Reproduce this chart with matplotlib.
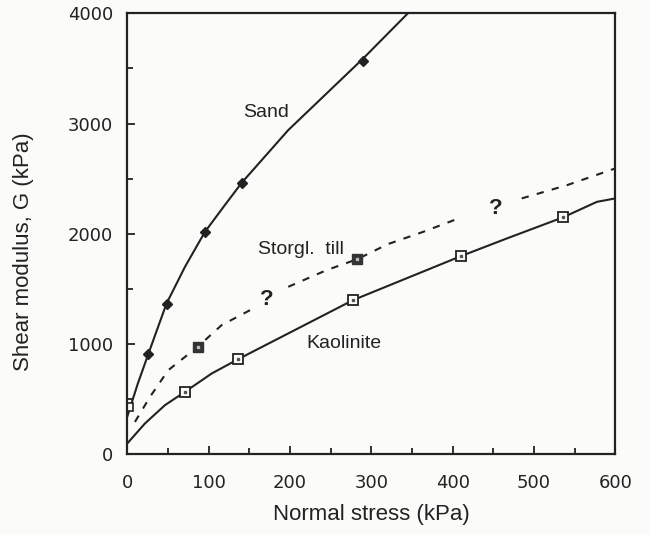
import numpy as np
import matplotlib
matplotlib.use("Agg")
import matplotlib.pyplot as plt
from matplotlib.ticker import MultipleLocator

# curves (normal stress kPa, shear modulus kPa)
sand_curve_x = [0, 13, 26, 38, 48.4, 71, 95.6, 120, 141, 198, 290, 345]
sand_curve_y = [340, 640, 910, 1156, 1368, 1700, 2018, 2260, 2465, 2941, 3590, 4000]
sand_pts_x = [26, 49, 96, 141, 290]
sand_pts_y = [910, 1365, 2020, 2465, 3570]

kaol_curve_x = [0, 21.8, 46.4, 71, 103.8, 135.8, 277.6, 410.2, 466.8, 535.7, 577.5, 600]
kaol_curve_y = [97, 279, 445, 566, 732, 860, 1398, 1797, 1958, 2149, 2290, 2321]
kaol_pts_x = [71, 135.8, 277.6, 410.2, 535.7]
kaol_pts_y = [566, 860, 1398, 1797, 2149]

# dashed till curve, broken where the question marks sit
till_seg1_x = [9.5, 28, 50.4, 86.6, 116, 151]
till_seg1_y = [293, 520, 762, 974, 1171, 1307]
till_seg2_x = [198, 245, 283, 320, 364, 411]
till_seg2_y = [1519, 1670, 1770, 1905, 2018, 2150]
till_seg3_x = [485, 541, 600]
till_seg3_y = [2321, 2442, 2593]
till_pts_x = [86.6, 283]
till_pts_y = [974, 1770]

odd_pt_x = [2]
odd_pt_y = [425]

bg = '#fbfbf9'
ink = '#222222'

fig = plt.figure(figsize=(6.49, 5.35), dpi=100, facecolor=bg)
ax = fig.add_axes([0.196, 0.151, 0.752, 0.824], facecolor=bg)

ax.plot(sand_curve_x, sand_curve_y, color=ink, lw=1.5, solid_capstyle='round')
ax.plot(sand_pts_x, sand_pts_y, 'D', color=ink, ms=5, ls='none')

ax.plot(kaol_curve_x, kaol_curve_y, color=ink, lw=1.5, solid_capstyle='round')
ax.plot(kaol_pts_x, kaol_pts_y, 's', mfc=bg, mec=ink, mew=1.3, ms=7, ls='none')
ax.plot(kaol_pts_x, kaol_pts_y, 's', color='#555555', ms=1.8, ls='none')

for sx, sy in [(till_seg1_x, till_seg1_y), (till_seg2_x, till_seg2_y), (till_seg3_x, till_seg3_y)]:
    ax.plot(sx, sy, color=ink, lw=1.5, dashes=(3.5, 4))
ax.plot(till_pts_x, till_pts_y, 's', color='#333333', ms=6.5, ls='none')
ax.plot(till_pts_x, till_pts_y, 's', color='#bbbbbb', ms=1.6, ls='none')

# small open marker against the left axis
ax.plot(odd_pt_x, odd_pt_y, 's', mfc=bg, mec=ink, mew=1.2, ms=6, ls='none')

lab = dict(family='Liberation Sans', color=ink)
ax.text(170.6, 3104, 'Sand', fontsize=14, ha='center', va='center', **lab)
ax.text(213.4, 1861, 'Storgl.  till', fontsize=14, ha='center', va='center', **lab)
ax.text(266.6, 1007, 'Kaolinite', fontsize=14, ha='center', va='center', **lab)
ax.text(171, 1407, '?', fontsize=16, fontweight='bold', ha='center', va='center', **lab)
ax.text(453.6, 2230, '?', fontsize=16, fontweight='bold', ha='center', va='center', **lab)

ax.set_xlim(0, 600)
ax.set_ylim(0, 4000)
ax.xaxis.set_major_locator(MultipleLocator(100))
ax.xaxis.set_minor_locator(MultipleLocator(50))
ax.yaxis.set_major_locator(MultipleLocator(1000))
ax.yaxis.set_minor_locator(MultipleLocator(500))
ax.tick_params(which='both', direction='in', top=False, right=False, color=ink, width=1.3)
ax.tick_params(which='major', length=6)
ax.tick_params(which='minor', length=4)
ax.tick_params(axis='x', which='major', pad=14)
ax.tick_params(axis='y', which='major', pad=10)
for t in ax.get_xticklabels() + ax.get_yticklabels():
    t.set_fontfamily('DejaVu Sans')
    t.set_fontsize(13)
    t.set_color(ink)
for s in ax.spines.values():
    s.set_linewidth(1.6)
    s.set_color(ink)

ax.set_xlabel('Normal stress (kPa)', fontsize=16, labelpad=9, **lab)
ax.set_ylabel('Shear modulus, G (kPa)', fontsize=16, **lab)
ax.yaxis.set_label_coords(-0.19, 0.46)

fig.savefig('out.png', dpi=100, facecolor=bg)
